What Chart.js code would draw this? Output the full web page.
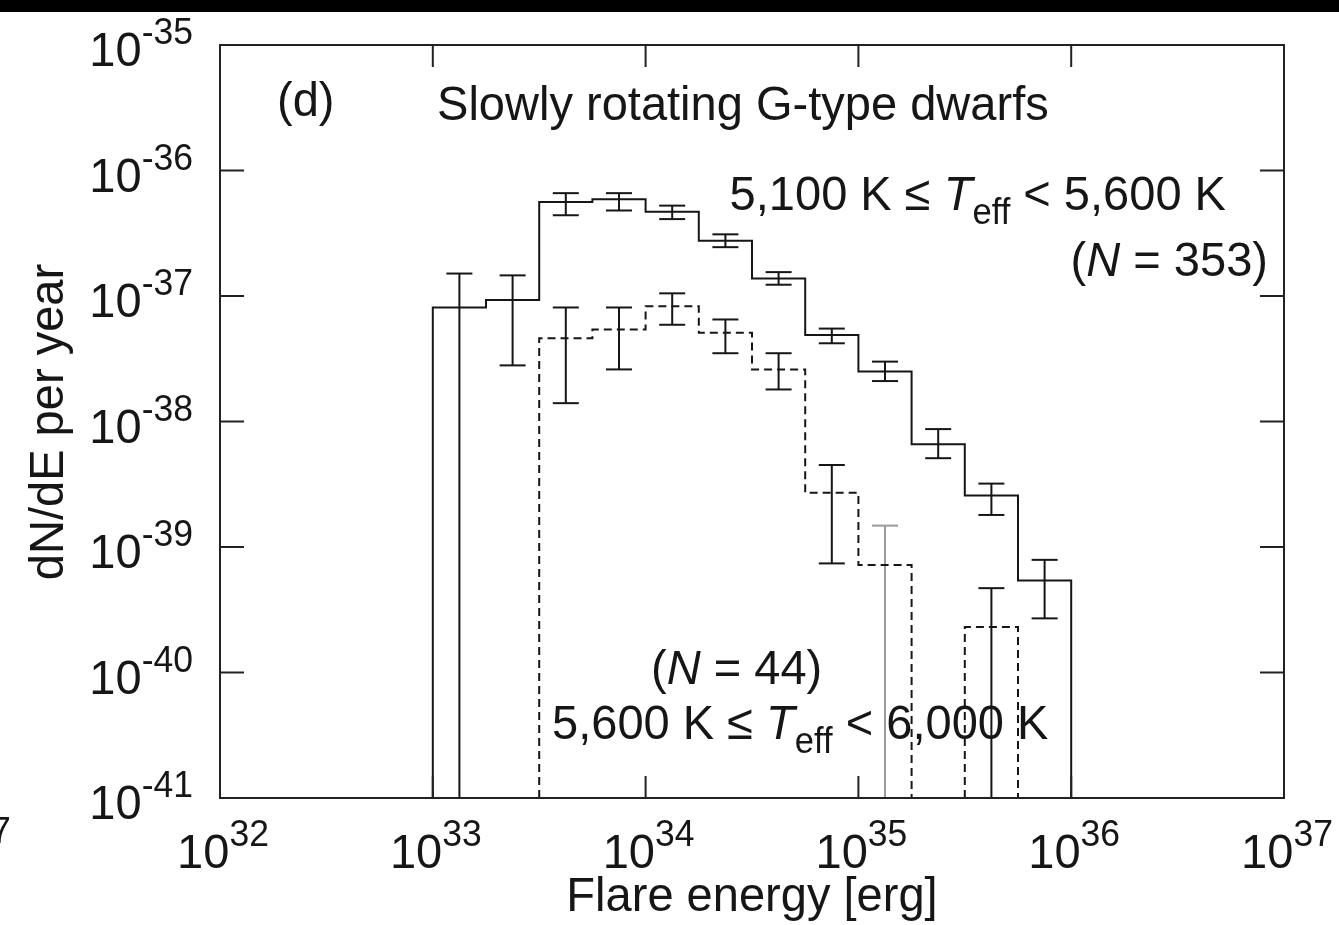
<!DOCTYPE html>
<html>
<head>
<meta charset="utf-8">
<script src="https://cdn.jsdelivr.net/npm/chart.js@4.4.1/dist/chart.umd.min.js"></script>
<style>
  html, body { margin: 0; padding: 0; background: #fff; }
  canvas { display: block; }
</style>
</head>
<body>
<canvas id="myChart" width="1339" height="925"></canvas>
<script>
// bin edges, log10(E / erg)
const logEdges = [33.0, 33.25, 33.5, 33.75, 34.0, 34.25, 34.5, 34.75, 35.0, 35.25, 35.5, 35.75, 36.0];

// 5,100 K <= Teff < 5,600 K (N = 353), dN/dE per year
const coolRate  = [8.1e-38, 9.3e-38, 5.6e-37, 5.9e-37, 4.7e-37, 2.75e-37, 1.38e-37, 4.9e-38, 2.5e-38, 6.6e-39, 2.57e-39, 5.4e-40];
const coolUpper = [1.51e-37, 1.46e-37, 6.6e-37, 6.6e-37, 5.25e-37, 3.1e-37, 1.55e-37, 5.5e-38, 3.0e-38, 8.7e-39, 3.2e-39, 7.9e-40];
const coolLower = [0, 2.8e-38, 4.4e-37, 4.8e-37, 4.1e-37, 2.45e-37, 1.23e-37, 4.2e-38, 2.1e-38, 5.1e-39, 1.8e-39, 2.7e-40];

// 5,600 K <= Teff < 6,000 K (N = 44)
const hotRate  = [0, 0, 4.6e-38, 5.4e-38, 8.3e-38, 5.1e-38, 2.6e-38, 2.7e-39, 7.2e-40, 0, 2.3e-40, 0];
const hotUpper = [0, 0, 8.1e-38, 8.1e-38, 1.05e-37, 6.5e-38, 3.5e-38, 4.5e-39, 1.48e-39, 0, 4.7e-40, 0];
const hotLower = [0, 0, 1.4e-38, 2.6e-38, 5.9e-38, 3.5e-38, 1.8e-38, 7.4e-40, 0, 0, 0, 0];

const xTickExps = [32, 33, 34, 35, 36, 37];
const yTickExps = [-35, -36, -37, -38, -39, -40, -41];

const X_MIN = 1e32, X_MAX = 1e37;
const Y_MIN = 1e-41, Y_MAX = 1e-35;

const INK = '#161616';
const FONT = '"Liberation Sans", Arial, Helvetica, sans-serif';
const SX = 0.96;      // glyphs are a touch narrow
const BIG = 49, SMALL = 37;

// step outline, dropping to the floor wherever a bin is empty
function outline(rates) {
  const pts = [];
  rates.forEach((v, i) => {
    if (!v) return;
    const lo = 10 ** logEdges[i], hi = 10 ** logEdges[i + 1];
    if (!rates[i - 1]) pts.push({ x: lo, y: Y_MIN });
    pts.push({ x: lo, y: v }, { x: hi, y: v });
    if (!rates[i + 1]) pts.push({ x: hi, y: Y_MIN }, { x: hi, y: null });
  });
  return pts;
}

// vertical bars at the bin centres; caps come from the 'line' point style
function errorBars(upper, lower, keep) {
  const pts = [];
  upper.forEach((u, i) => {
    if (!u || !keep(i)) return;
    const xc = 10 ** ((logEdges[i] + logEdges[i + 1]) / 2);
    pts.push({ x: xc, y: lower[i] || Y_MIN }, { x: xc, y: u }, { x: xc, y: null });
  });
  return pts;
}

const faintHot = [8];   // this bar is printed lighter

const barStyle = (color) => ({
  showLine: true,
  borderColor: color,
  borderWidth: 2,
  pointStyle: 'line',
  pointRadius: 13,
  pointBorderWidth: 2,
  pointBorderColor: color,
  pointBackgroundColor: color,
  spanGaps: false,
});

function textRuns(ctx, runs) {
  return runs.map(r => {
    const size = r.size || BIG;
    const font = `${r.italic ? 'italic ' : ''}${size}px ${FONT}`;
    ctx.font = font;
    return { ...r, font, w: ctx.measureText(r.t).width * SX };
  });
}

function drawRuns(ctx, runs, x, y, align) {
  const measured = textRuns(ctx, runs);
  const total = measured.reduce((s, r) => s + r.w, 0);
  let cx = align === 'right' ? x - total : align === 'center' ? x - total / 2 : x;
  ctx.fillStyle = INK;
  ctx.textBaseline = 'alphabetic';
  ctx.textAlign = 'left';
  for (const r of measured) {
    ctx.save();
    ctx.font = r.font;
    ctx.translate(cx, y + (r.dy || 0));
    ctx.scale(SX, 1);
    ctx.fillText(r.t, 0, 0);
    ctx.restore();
    cx += r.w;
  }
}

const pow10 = (e) => [{ t: '10' }, { t: String(e), size: SMALL, dy: -22 }];

const paper = {
  id: 'paper',
  beforeDraw(chart) {
    const { ctx, width, height } = chart;
    ctx.save();
    ctx.fillStyle = '#fff';
    ctx.fillRect(0, 0, width, height);
    ctx.fillStyle = '#000';
    ctx.fillRect(0, 0, width, 12);
    ctx.restore();
  },
  afterDraw(chart) {
    const { ctx, chartArea: a, scales: { x, y } } = chart;
    ctx.save();

    // frame with inward decade ticks on all four sides
    ctx.strokeStyle = '#222';
    ctx.lineWidth = 2;
    ctx.strokeRect(a.left, a.top, a.right - a.left, a.bottom - a.top);
    ctx.beginPath();
    for (const e of xTickExps) {
      const px = x.getPixelForValue(10 ** e);
      ctx.moveTo(px, a.bottom); ctx.lineTo(px, a.bottom - 22);
      ctx.moveTo(px, a.top);    ctx.lineTo(px, a.top + 22);
    }
    for (const e of yTickExps) {
      const py = y.getPixelForValue(10 ** e);
      ctx.moveTo(a.left, py);  ctx.lineTo(a.left + 24, py);
      ctx.moveTo(a.right, py); ctx.lineTo(a.right - 24, py);
    }
    ctx.stroke();

    // tick labels
    for (const e of xTickExps) {
      drawRuns(ctx, pow10(e), x.getPixelForValue(10 ** e) + 3, a.bottom + 70, 'center');
    }
    for (const e of yTickExps) {
      drawRuns(ctx, pow10(e), a.left - 27, y.getPixelForValue(10 ** e) + 21, 'right');
    }
    // edge of the neighbouring panel's last label
    drawRuns(ctx, [{ t: '7', size: SMALL }], -9, 843, 'left');

    // axis titles
    drawRuns(ctx, [{ t: 'Flare energy [erg]' }], (a.left + a.right) / 2, a.bottom + 113, 'center');
    ctx.save();
    ctx.translate(63, 422);
    ctx.rotate(-Math.PI / 2);
    drawRuns(ctx, [{ t: 'dN/dE per year' }], 0, 0, 'center');
    ctx.restore();

    // annotations
    drawRuns(ctx, [{ t: '(d)' }], 277, 116, 'left');
    drawRuns(ctx, [{ t: 'Slowly rotating G-type dwarfs' }], 437, 120, 'left');
    drawRuns(ctx, [
      { t: '5,100 K \u2264 ' }, { t: 'T', italic: true },
      { t: 'eff', size: 36, dy: 14 }, { t: ' < 5,600 K' }
    ], 1226, 210, 'right');
    drawRuns(ctx, [{ t: '(' }, { t: 'N', italic: true }, { t: ' = 353)' }], 1268, 276, 'right');
    drawRuns(ctx, [{ t: '(' }, { t: 'N', italic: true }, { t: ' = 44)' }], 651, 684, 'left');
    drawRuns(ctx, [
      { t: '5,600 K \u2264 ' }, { t: 'T', italic: true },
      { t: 'eff', size: 36, dy: 14 }, { t: ' < 6,000 K' }
    ], 552, 739, 'left');

    ctx.restore();
  }
};

new Chart(document.getElementById('myChart'), {
  type: 'scatter',
  data: {
    datasets: [
      {
        label: '5,100-5,600 K',
        data: outline(coolRate),
        showLine: true,
        borderColor: INK,
        borderWidth: 2,
        pointRadius: 0,
        spanGaps: false,
      },
      {
        label: '5,600-6,000 K',
        data: outline(hotRate),
        showLine: true,
        borderColor: INK,
        borderWidth: 2,
        borderDash: [8, 5],
        pointRadius: 0,
        spanGaps: false,
      },
      { label: 'cool err', data: errorBars(coolUpper, coolLower, () => true), ...barStyle(INK) },
      { label: 'hot err', data: errorBars(hotUpper, hotLower, i => !faintHot.includes(i)), ...barStyle(INK) },
      { label: 'hot err faint', data: errorBars(hotUpper, hotLower, i => faintHot.includes(i)), ...barStyle('#9a9a9a') },
    ]
  },
  options: {
    responsive: false,
    animation: false,
    events: [],
    devicePixelRatio: 1,
    layout: { padding: { left: 220, right: 55, top: 45, bottom: 127 } },
    plugins: {
      legend: { display: false },
      tooltip: { enabled: false },
    },
    scales: {
      x: { type: 'logarithmic', min: X_MIN, max: X_MAX, display: false },
      y: { type: 'logarithmic', min: Y_MIN, max: Y_MAX, display: false },
    }
  },
  plugins: [paper]
});
</script>
</body>
</html>
